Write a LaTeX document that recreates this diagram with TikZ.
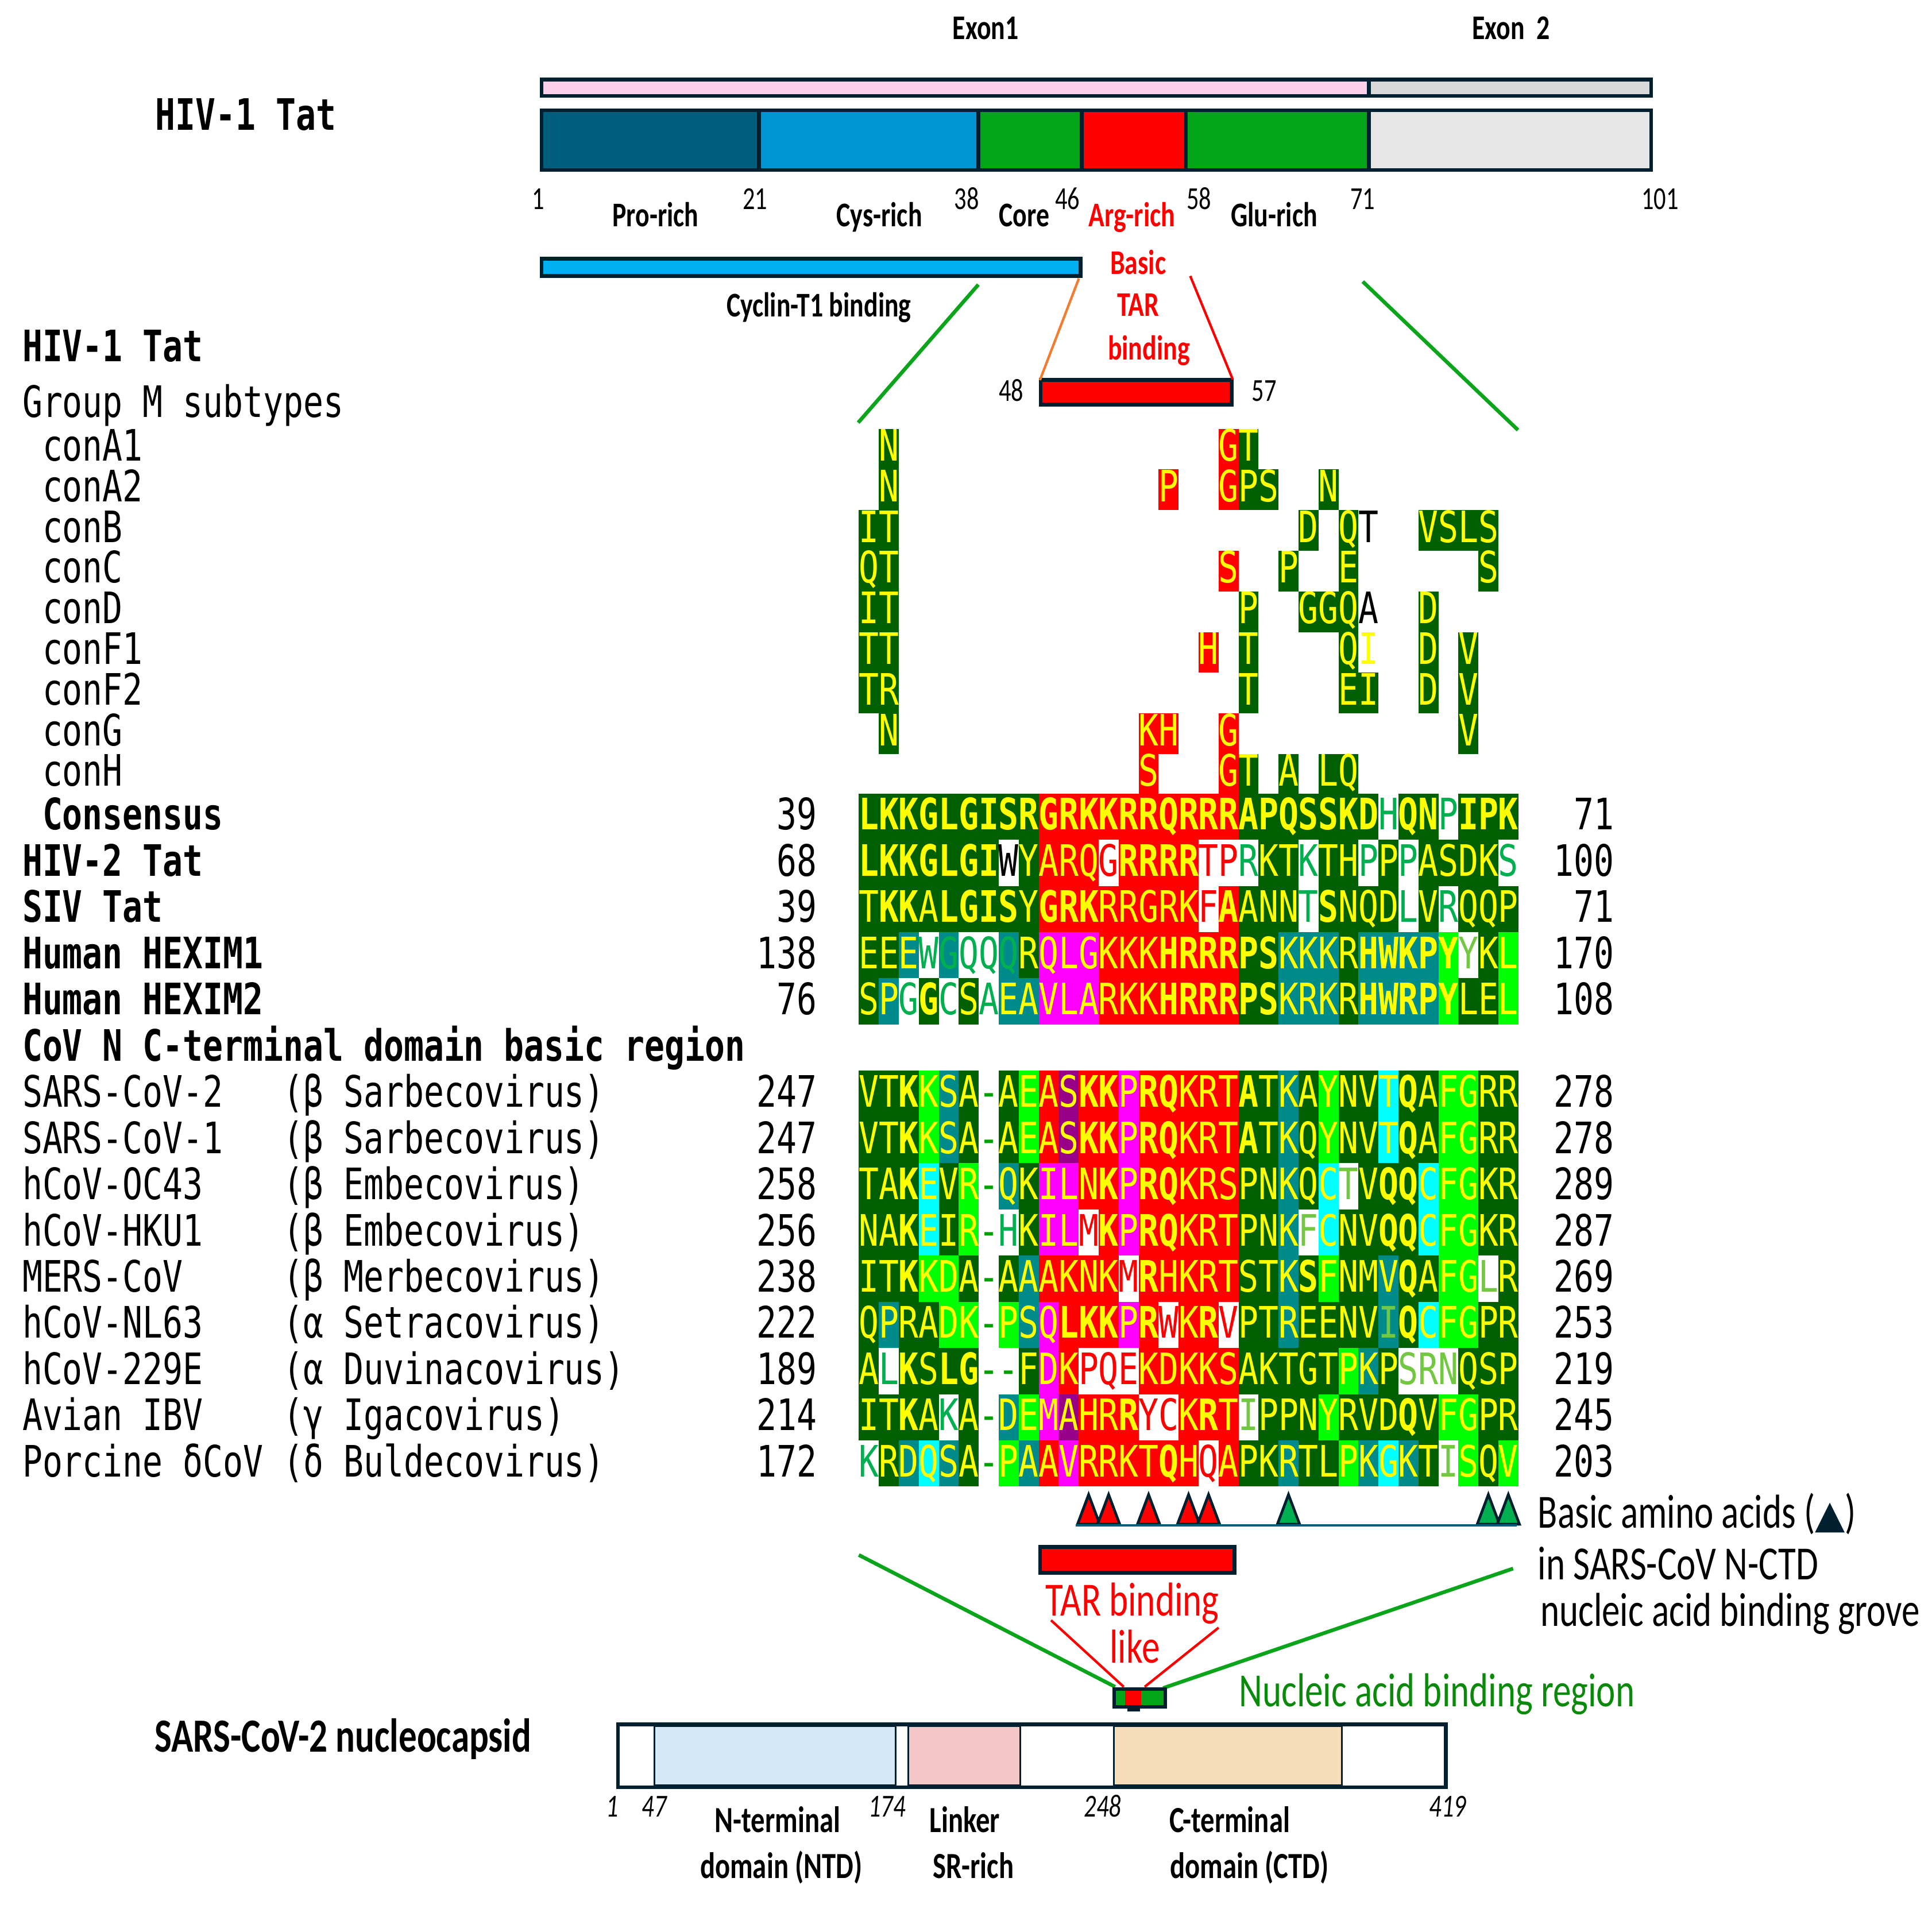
\documentclass[tikz,border=0pt]{standalone}
\usepackage{fontspec}
\usepackage{tikz}

\newfontfamily\monofont[FakeStretch=0.77]{DejaVu Sans Mono}
\newfontfamily\calfont[FakeStretch=0.76]{Carlito}
\newfontfamily\symfont{DejaVu Sans}
\newcommand\aafont{\monofont\fontsize{10}{12}\selectfont}

\definecolor{barnavy}{HTML}{00202F}
\definecolor{prorich}{HTML}{005E7D}
\definecolor{cysrich}{HTML}{0096D6}
\definecolor{coregreen}{HTML}{02A618}
\definecolor{exonpink}{HTML}{FCCFEB}
\definecolor{exongrey}{HTML}{D9D9D9}
\definecolor{exontwo}{HTML}{E7E7E7}
\definecolor{cyclinblue}{HTML}{00B0F0}
\definecolor{tarorange}{HTML}{F47C30}
\definecolor{zoomgreen}{HTML}{0AA51A}
\definecolor{trigreen}{HTML}{00B050}
\definecolor{alngreen}{HTML}{005F00}
\definecolor{alnteal}{HTML}{008B8B}
\definecolor{alnlime}{HTML}{00FF00}
\definecolor{alncyan}{HTML}{00FFFF}
\definecolor{alnmag}{HTML}{FF00FF}
\definecolor{alnpurple}{HTML}{990088}
\definecolor{alnyellow}{HTML}{FFFF00}
\definecolor{txtgreen}{HTML}{00B050}
\definecolor{txtlight}{HTML}{72C840}
\definecolor{gapgreen}{HTML}{00A000}
\definecolor{nucgreen}{HTML}{0A8A0A}
\definecolor{ntdblue}{HTML}{D6E9F8}
\definecolor{linkpink}{HTML}{F4C6C8}
\definecolor{ctdtan}{HTML}{F4DDB8}

\tikzset{
  bar/.style={draw=barnavy, line width=0.3mm},
  lab/.style={font=\aafont, inner sep=0pt, anchor=base west},
  labb/.style={lab, font=\aafont\bfseries},
  numr/.style={font=\aafont, inner sep=0pt, anchor=base east},
  dom/.style={font=\calfont\bfseries\fontsize{8}{9.6}\selectfont, inner sep=0pt, anchor=base},
  num/.style={font=\calfont\fontsize{7.4}{9}\selectfont, inner sep=0pt, anchor=base},
  nnum/.style={font=\calfont\itshape\fontsize{7.4}{9}\selectfont, inner sep=0pt, anchor=base},
  note/.style={font=\calfont\fontsize{11}{13}\selectfont, inner sep=0pt, anchor=base west},
  zoomline/.style={zoomgreen, line width=0.3mm},
  tarline/.style={red, line width=0.2mm},
  % residue cells
  cell/.style={inner sep=0pt, anchor=base, font=\aafont},
  fgy/.style={cell, text=alnyellow},
  fgY/.style={cell, text=alnyellow, font=\aafont\bfseries},
  fgG/.style={cell, text=txtgreen},
  fgL/.style={cell, text=txtlight},
  fgR/.style={cell, text=red},
  fgK/.style={cell, text=black},
  fgD/.style={cell, text=gapgreen},
  bgg/.style={fill=alngreen}, bgr/.style={fill=red}, bgm/.style={fill=alnmag},
  bgp/.style={fill=alnpurple}, bgt/.style={fill=alnteal}, bgl/.style={fill=alnlime},
  bgc/.style={fill=alncyan}, bgw/.style={fill=white}
}

% one alignment row: top, height, baseline offset, residues, backgrounds, text colours
\newcount\alncol
\newcommand\alnrow[6]{\def\alntop{#1}\def\alnh{#2}\def\alnbase{#3}\alncol=0
  \alnstep#4\relax#5\relax#6\relax}
\def\alnstep#1#2\relax#3#4\relax#5#6\relax{%
  \if#3.\else\fill[bg#3] (697+\the\alncol*16.22,\alntop) rectangle ++(16.22,\alnh);\fi
  \if#1.\else\node[fg#5] at (705.11+\the\alncol*16.22,\alntop+\alnbase) {#1};\fi
  \advance\alncol by 1
  \ifx\relax#2\relax\let\alnnext\relax\else\def\alnnext{\alnstep#2\relax#4\relax#6\relax}\fi
  \alnnext}

\begin{document}
\begin{tikzpicture}[x=0.1mm, y=-0.1mm]
\useasboundingbox (0,0) rectangle (1568,1545.7);

% HIV-1 Tat domains
\node[labb] (tat) at (125.5,105.5) {HIV-1 Tat};
\node[dom] (exon1) at (800,32) {Exon1};
\node[dom] (exon2) at (1226.4,32) {Exon\ \ 2};
\draw[bar, fill=exonpink] (439.5,64.6) rectangle (1111,77.8);
\draw[bar, fill=exongrey] (1111,64.6) rectangle (1340,77.8);
\foreach \xa/\xb/\col in {439.5/616/prorich, 616/794/cysrich, 794/878/coregreen,
    878/962.5/red, 962.5/1111/coregreen, 1111/1340/exontwo}
  \draw[bar, fill=\col] (\xa,89.5) rectangle (\xb,138);
\foreach \x/\n in {437/1, 612.8/21, 784.5/38, 866.3/46, 973/58, 1105.9/71, 1347.3/101}
  \node[num] (pos\n) at (\x,170) {\n};
\node[dom] (pro) at (532,183.8) {Pro-rich};
\node[dom] (cys) at (713.6,183.8) {Cys-rich};
\node[dom] (core) at (831.3,183.8) {Core};
\node[dom, red] (arg) at (918.7,183.8) {Arg-rich};
\node[dom] (glu) at (1034.1,183.8) {Glu-rich};

% Cyclin-T1 and TAR binding
\draw[bar, fill=cyclinblue] (439.6,210) rectangle (877,224);
\node[dom] (cyclin) at (664.6,257) {Cyclin-T1 binding};
\node[dom, red] (basic) at (923.7,222.4) {Basic};
\node[dom, red] (tar) at (923.7,256.6) {TAR};
\node[dom, red] (tarb) at (932.4,291.8) {binding};
\draw[bar, fill=red] (844.5,308.3) rectangle (999.5,328.4);
\node[num] (p48) at (820.7,325.4) {48};
\node[num] (p57) at (1026,325.4) {57};
\coordinate (cycEnd) at (875.6,226);
\coordinate (boxL) at (844,308.5);
\coordinate (argEnd) at (966,224);
\coordinate (boxR) at (1000.5,308);
\draw[tarorange, line width=0.2mm] (cycEnd) -- (boxL);
\draw[tarline] (argEnd) -- (boxR);
\coordinate (zoomL) at (794,231);
\coordinate (zoomR) at (1106,228.5);
\coordinate (alnTL) at (696.5,343);
\coordinate (alnTR) at (1232,349);
\draw[zoomline] (zoomL) -- (alnTL);
\draw[zoomline] (zoomR) -- (alnTR);

% Row labels
\node[labb] (hiv1) at (17.5,293.5) {HIV-1 Tat};
\node[lab] (groupm) at (17.5,338.5) {Group M subtypes};
\foreach \nm [count=\i from 0] in {conA1, conA2, conB, conC, conD, conF1, conF2, conG, conH}
  \node[lab] (\nm) at (33.8,374+33*\i) {\nm};
\node[labb] (cons) at (33.8,673.5) {Consensus};
\node[numr] (consl) at (663.5,673.5) {39};
\node[numr] (consr) at (1310.5,673.5) {71};
\foreach \nm/\lnum/\rnum [count=\k from 1] in {HIV-2 Tat/68/100, SIV Tat/39/71,
    Human HEXIM1/138/170, Human HEXIM2/76/108} {
  \node[labb] (row\k) at (17.5,673.5+37.5*\k) {\nm};
  \node[numr] (rowl\k) at (663.5,673.5+37.5*\k) {\lnum};
  \node[numr] (rowr\k) at (1310.5,673.5+37.5*\k) {\rnum};
}
\node[labb] (covhead) at (17.5,861) {CoV N C-terminal domain basic region};
\foreach \nm/\gen/\lnum/\rnum [count=\k from 6] in {SARS-CoV-2/β Sarbecovirus/247/278,
    SARS-CoV-1/β Sarbecovirus/247/278, hCoV-OC43/β Embecovirus/258/289,
    hCoV-HKU1/β Embecovirus/256/287, MERS-CoV/β Merbecovirus/238/269,
    hCoV-NL63/α Setracovirus/222/253, hCoV-229E/α Duvinacovirus/189/219,
    Avian IBV/γ Igacovirus/214/245, Porcine δCoV/δ Buldecovirus/172/203} {
  \node[lab] (cov\k) at (17.5,673.5+37.5*\k) {\nm};
  \node[lab] (gen\k) at (229.4,673.5+37.5*\k) {(\gen)};
  \node[numr] (covl\k) at (663.5,673.5+37.5*\k) {\lnum};
  \node[numr] (covr\k) at (1310.5,673.5+37.5*\k) {\rnum};
}

% Alignment: group M subtypes
\alnrow{348}{33}{26}{.N......... .......GT.. ...........}{.g......... .......rg.. ...........}{yyyyyyyyyyy yyyyyyyyyyy yyyyyyyyyyy}
\alnrow{381}{33}{26}{.N......... ....P..GPS. .N.........}{.g......... ....r..rgg. .g.........}{yyyyyyyyyyy yyyyyyyyyyy yyyyyyyyyyy}
\alnrow{414}{33}{26}{IT......... ........... D.QT..VSLS.}{gg......... ........... g.g...gggg.}{yyyyyyyyyyy yyyyyyyyyyy yyyKyyyyyyy}
\alnrow{447}{33}{26}{QT......... .......S..P ..E......S.}{gg......... .......r..g ..g......g.}{yyyyyyyyyyy yyyyyyyyyyy yyyyyyyyyyy}
\alnrow{480}{33}{26}{IT......... ........P.. GGQA..D....}{gg......... ........g.. ggg...g....}{yyyyyyyyyyy yyyyyyyyyyy yyyKyyyyyyy}
\alnrow{513}{33}{26}{TT......... ......H.T.. ..QI..D.V..}{gg......... ......r.g.. ..g...g.g..}{yyyyyyyyyyy yyyyyyyyyyy yyyyyyyyyyy}
\alnrow{546}{33}{26}{TR......... ........T.. ..EI..D.V..}{gg......... ........g.. ..gg..g.g..}{yyyyyyyyyyy yyyyyyyyyyy yyyyyyyyyyy}
\alnrow{579}{33}{26}{.N......... ...KH..G... ........V..}{.g......... ...rr..r... ........g..}{yyyyyyyyyyy yyyyyyyyyyy yyyyyyyyyyy}
\alnrow{612}{33}{26}{........... ...S...GT.A .LQ........}{........... ...r...rg.g .gg........}{yyyyyyyyyyy yyyyyyyyyyy yyyyyyyyyyy}

% Alignment: Tat and HEXIM
\alnrow{644}{37.5}{29.5}{LKKGLGISRGR KKRRQRRRAPQ SSKDHQNPIPK}{gggggggggrr rrrrrrrrggg ggggwggwggg}{YYYYYYYYYYY YYYYYYYYYYY YYYYGYYGYYY}
\alnrow{681.5}{37.5}{29.5}{LKKGLGIWYAR QGRRRRTPRKT KTHPPPASDKS}{gggggggwgrr rwrrrrwwwgg wggwgwggggw}{YYYYYYYKyyy yRYYYYRRGyy GyyGyGyyyyG}
\alnrow{719}{37.5}{29.5}{TKKALGISYGR KRRGRKFAANN TSNQDLVRQQP}{gggggggggrr rrrrrrwrggg wggggwgwggg}{yYYyYYYYyYY YyyyyyRYyyy GYyyyGyGyyy}
\alnrow{756.5}{37.5}{29.5}{EEEWGQQQRQL GKKKHRRRPSK KKRHWKPYYKL}{ggtwtwwtgmm mrrrrrrrggt ttgttttlwgl}{yyyGGGGGyyy yyyyYYYYYYy yyyYYYYYLyy}
\alnrow{794}{37.5}{29.5}{SPGGCSAEAVL ARKKHRRRPSK RKRHWRPYLEL}{gtwgwgwttmm mrrrrrrrggt ttgttttlggl}{yyGYGyGyyyy yyyyYYYYYYy yyyYYYYYyyy}

% Alignment: CoV N
\alnrow{869}{37.5}{29.5}{VTKKSA-AEAS KKPRQKRTATK AYNVTQAFGRR}{gggltgwglrp rrmrrrrrggt glggcggllgg}{yyYyyyDyyyy YYyYYyyyYyy yyyyyYyyyyy}
\alnrow{906.5}{37.5}{29.5}{VTKKSA-AEAS KKPRQKRTATK QYNVTQAFGRR}{gggltgwglrp rrmrrrrrggt glggcggllgg}{yyYyyyDyyyy YYyYYyyyYyy yyyyyYyyyyy}
\alnrow{944}{37.5}{29.5}{TAKEVR-QKIL NKPRQKRSPNK QCTVQQCFGKR}{gggcglwtgmm rrmrrrrrggt gcwgggcllgg}{yyYyyyDyyyy yYyYYyyyyyy yyLyYYyyyyy}
\alnrow{981.5}{37.5}{29.5}{NAKEIR-HKIL MKPRQKRTPNK FCNVQQCFGKR}{gggcglwwgmm wrmrrrrrggt wcggggcllgg}{yyYyyyDGyyy RYyYYyyyyyy LyyyYYyyyyy}
\alnrow{1019}{37.5}{29.5}{ITKKDA-AAAK NKMRHKRTSTK SFNMVQAFGLR}{gggllgwgtrr rrwrrrrrggt glggtggllwg}{yyYyyyDyyyy yyRYyyyyyyy YyyyyYyyyLy}
\alnrow{1056.5}{37.5}{29.5}{QPRADK-PSQL KKPRWKRVPTR EENVIQCFGPR}{gtggllwltmr rrmrwrrwggt ggggtgcllgg}{yyyyyyDyyyY YYyYRyYRyyy yyyyLYyyyyy}
\alnrow{1094}{37.5}{29.5}{ALKSLG--FDK PQEKDKKSAKT GTPKPSRNQSP}{gwggggwwgmr wwwrrrrrggg ggltgwwwggg}{yGYyYYDDyyy RRRyyyyyyyy yyyyyLLLyyy}
\alnrow{1131.5}{37.5}{29.5}{ITKAKA-DEMA HRRYCKRTIPP NYRVDQVFGPR}{ggggwgwtlmp rrrwwrrrwgg glgggggllgg}{yyYyGyDyyyy yyYRRyYyLyy yyyyyYyyyyy}
\alnrow{1169}{37.5}{29.5}{KRDQSA-PAAV RRKTQHQAPKR TLPKGKTISQV}{wgtctgwltrm rrrrrrwrggt ggltctgwlgl}{GyyyyyDyyyy yyyyYyRyyyy yyyyyyyLyyy}

% Basic amino acids
\foreach \c/\col in {11/red, 12/red, 14/red, 16/red, 17/red, 21/trigreen, 31/trigreen, 32/trigreen}
  \draw[barnavy, line width=0.22mm, fill=\col] (696.11+16.22*\c,1237) -- (705.11+16.22*\c,1213)
    -- (714.11+16.22*\c,1237) -- cycle;
\draw[prorich, line width=0.22mm] (873,1238) -- (1231,1238);
\node[note] (basicaa) at (1247.5,1240.3) {Basic amino acids ({\symfont\fontsize{9}{10}\selectfont\color{barnavy}▲})};
\node[note] (insars) at (1247.5,1282) {in SARS-CoV N-CTD};
\node[note] (grove) at (1249.5,1319.8) {nucleic acid binding grove};

% TAR binding like
\draw[bar, fill=red] (844,1255.5) rectangle (1002,1276.5);
\node[note, anchor=base, red] (tarlike) at (919,1311.4) {TAR binding};
\node[note, anchor=base, red] (like) at (921,1349.5) {like};
\coordinate (tarA) at (853,1315);
\coordinate (tarB) at (989,1321);
\coordinate (boxA) at (912,1369);
\coordinate (boxB) at (929,1369);
\draw[tarline] (tarA) -- (boxA);
\draw[tarline] (tarB) -- (boxB);
\coordinate (alnBL) at (697,1262);
\coordinate (alnBR) at (1228,1273);
\coordinate (nucL) at (905,1369);
\coordinate (nucR) at (944,1370);
\draw[zoomline] (alnBL) -- (nucL);
\draw[zoomline] (alnBR) -- (nucR);

% Nucleic acid binding region
\fill[barnavy] (903,1369.5) rectangle (947,1386.5);
\fill[barnavy] (915,1386) rectangle (925,1389);
\fill[coregreen] (905.5,1372) rectangle (944.5,1384);
\fill[red] (913,1372) rectangle (926,1384);
\node[note, nucgreen] (nucreg) at (1005,1385) {Nucleic acid binding region};

% SARS-CoV-2 nucleocapsid
\node[font=\calfont\bfseries\fontsize{11}{13}\selectfont, inner sep=0pt, anchor=base west] (ncap) at (125,1422) {SARS-CoV-2 nucleocapsid};
\draw[bar, fill=white] (501.5,1399.5) rectangle (1173.5,1450.5);
\foreach \xa/\xb/\col in {531/727/ntdblue, 737/828/linkpink, 904/1089/ctdtan}
  \draw[barnavy, line width=0.15mm, fill=\col] (\xa,1401) rectangle (\xb,1449);
\foreach \x/\n in {497/1, 531/47, 720/174, 895/248, 1175/419}
  \node[nnum] (npos\n) at (\x,1474.5) {\n};
\node[dom, font=\calfont\bfseries\fontsize{8.5}{10}\selectfont] (ntd) at (631,1487.3) {N-terminal};
\node[dom, font=\calfont\bfseries\fontsize{8.5}{10}\selectfont] (ntdb) at (634,1524.3) {domain (NTD)};
\node[dom, font=\calfont\bfseries\fontsize{8.5}{10}\selectfont] (linker) at (783,1487.3) {Linker};
\node[dom, font=\calfont\bfseries\fontsize{8.5}{10}\selectfont] (srrich) at (790,1524.3) {SR-rich};
\node[dom, font=\calfont\bfseries\fontsize{8.5}{10}\selectfont] (ctd) at (998,1487.3) {C-terminal};
\node[dom, font=\calfont\bfseries\fontsize{8.5}{10}\selectfont] (ctdb) at (1014,1524.3) {domain (CTD)};
\end{tikzpicture}
\end{document}
